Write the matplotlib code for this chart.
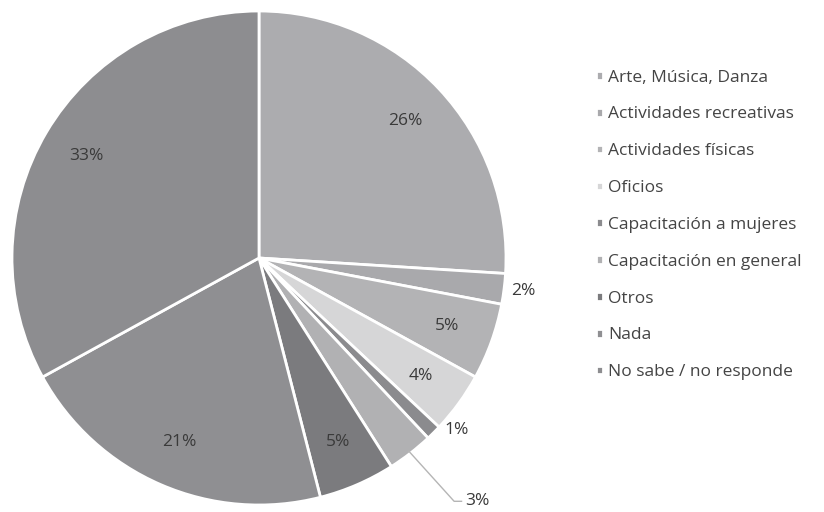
import numpy as np
import matplotlib
matplotlib.use('Agg')
import matplotlib.pyplot as plt

plt.rcParams['font.family'] = ['Open Sans', 'DejaVu Sans']

categorias = ['Arte, Música, Danza', 'Actividades recreativas', 'Actividades físicas',
              'Oficios', 'Capacitación a mujeres', 'Capacitación en general',
              'Otros', 'Nada', 'No sabe / no responde']
porcentajes = [26, 2, 5, 4, 1, 3, 5, 21, 33]
colores = ['#acacaf', '#a9a9ac', '#b3b3b5', '#d6d6d7', '#8b8b8e',
           '#b1b1b3', '#7b7b7e', '#8f8f92', '#8d8d90']

fig = plt.figure(figsize=(8.24, 5.12), dpi=100)
ax = fig.add_axes([12 / 824, 7 / 512, 494 / 824, 494 / 512])

wedges, textos, autotextos = ax.pie(
    porcentajes, colors=colores, startangle=90, counterclock=False,
    autopct='%d%%', pctdistance=0.81,
    wedgeprops=dict(edgecolor='white', linewidth=2),
    textprops=dict(fontsize=12.5, color='#3a3a3a'))
ax.set_xlim(-1.0, 1.0)
ax.set_ylim(-1.0, 1.0)
ax.set_aspect('equal')

# etiquetas pequeñas fuera del pastel
def angulo_medio(w):
    return np.deg2rad((w.theta1 + w.theta2) / 2)

for i, r, da in [(1, 1.08, 0), (4, 1.06, 4)]:
    a = angulo_medio(wedges[i]) + np.deg2rad(da)
    autotextos[i].set_position((r * np.cos(a), r * np.sin(a)))

# 3% con línea guía
a = angulo_medio(wedges[5])
x0, y0 = 0.99 * np.cos(a), 0.99 * np.sin(a)
autotextos[5].set_visible(False)
ax.plot([x0, 0.79, 0.82], [y0, -0.985, -0.985], color='#b5b5b5', lw=1, clip_on=False)
ax.text(0.835, -0.985, '3%', fontsize=12.5, color='#3a3a3a', va='center', ha='left')

leg = fig.legend(wedges, categorias, loc='upper left',
                 bbox_to_anchor=(580 / 824, 1 - 54 / 512), frameon=False,
                 fontsize=12.5, handlelength=0.4, handleheight=0.4,
                 handletextpad=0.3, labelspacing=1.2)
for t in leg.get_texts():
    t.set_color('#444444')

fig.savefig('out.png', dpi=100)
